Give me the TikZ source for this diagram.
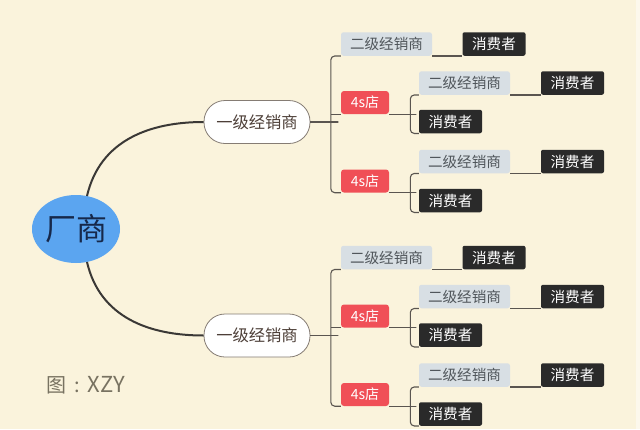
\documentclass[tikz,border=0pt]{standalone}
\usepackage{fontspec}
\newfontfamily\cjk{Noto Sans CJK SC}
\usetikzlibrary{shapes.geometric}
\definecolor{bg}{HTML}{FAF3DC}
\definecolor{bgedge}{HTML}{FCF8EC}
\definecolor{rootblue}{HTML}{5BA5F0}
\definecolor{roottext}{HTML}{16284A}
\definecolor{redbox}{HTML}{F04F57}
\definecolor{greybox}{HTML}{D8DFE4}
\definecolor{greytext}{HTML}{50565B}
\definecolor{blackbox}{HTML}{2A2A2A}
\definecolor{pilltext}{HTML}{4D3F38}
\definecolor{pilledge}{HTML}{857C74}
\definecolor{linecol}{HTML}{5A5550}
\definecolor{curvecol}{HTML}{3A3836}
\definecolor{credit}{HTML}{787261}
\begin{document}
\begin{tikzpicture}[x=1pt,y=-1pt,
  every node/.style={font=\cjk, inner sep=0pt},
  rootnode/.style={ellipse, fill=rootblue, minimum width=88pt, minimum height=68pt, text=roottext, font=\cjk\fontsize{31}{31}\selectfont},
  pill/.style={draw=pilledge, line width=0.8pt, fill=white, rounded corners=21pt, minimum width=106pt, minimum height=43pt, text=pilltext, font=\cjk\fontsize{16.3}{17}\selectfont},
  twobox/.style={fill=greybox, rounded corners=2.5pt, minimum width=91pt, minimum height=23.5pt, text=greytext, font=\cjk\fontsize{14.6}{15}\selectfont},
  shopbox/.style={fill=redbox, rounded corners=3pt, minimum width=48pt, minimum height=23pt, text=white, font=\cjk\fontsize{14}{14}\selectfont},
  consbox/.style={fill=blackbox, rounded corners=2pt, minimum width=63pt, minimum height=23.5pt, text=white, font=\cjk\fontsize{14.6}{15}\selectfont},
  conn/.style={draw=linecol, line width=1.1pt, rounded corners=4pt},
  curve/.style={draw=curvecol, line width=2pt}
]
\fill[bg] (0,0) rectangle (640,429);
\fill[bgedge] (636,0) rectangle (640,429);
\useasboundingbox (0,0) rectangle (640,429);

% root
\node[rootnode] (root) at (76,229) {厂商};

% two first-level groups
\foreach \g/\dy in {a/0, b/213.5}{
  \begin{scope}[yshift=-\dy pt]
  \node[pill] (L1\g) at (257,122) {一级经销商};
  \node[twobox] (T\g) at (386.5,44) {二级经销商};
  \node[consbox] (Tc\g) at (494,44) {消费者};
  \node[shopbox] (Sa\g) at (365,102.5) {4s店};
  \node[twobox] (Sat\g) at (464.5,83) {二级经销商};
  \node[consbox] (Satc\g) at (572.5,83) {消费者};
  \node[consbox] (Sac\g) at (450.5,121.5) {消费者};
  \node[shopbox] (Sb\g) at (365,181) {4s店};
  \node[twobox] (Sbt\g) at (464.5,161.5) {二级经销商};
  \node[consbox] (Sbtc\g) at (572.5,161.5) {消费者};
  \node[consbox] (Sbc\g) at (450.5,200.5) {消费者};
  \end{scope}
}

% connectors
\foreach \g in {a,b}{
  \path[conn] (L1\g.east) -- (L1\g.east -| T\g.south west) -- ++(-10,0);
  \path[conn] (T\g.south west) -- ++(-10,0) |- (Sb\g.south west);
  \path[conn] (Sa\g.south west) -- ++(-10,0);
  \path[conn] (T\g.south east) -- (Tc\g.south west);
  \path[conn] (Sa\g.south east) -- (Sa\g.south east -| Sat\g.south west) -- ++(-8.5,0);
  \path[conn] (Sat\g.south west) -- ++(-8.5,0) |- (Sac\g.south west);
  \path[conn] (Sat\g.south east) -- (Satc\g.south west);
  \path[conn] (Sb\g.south east) -- (Sb\g.south east -| Sbt\g.south west) -- ++(-8.5,0);
  \path[conn] (Sbt\g.south west) -- ++(-8.5,0) |- (Sbc\g.south west);
  \path[conn] (Sbt\g.south east) -- (Sbtc\g.south west);
}

% curves from root
\coordinate (rt) at (87,196);
\coordinate (rb) at (87,262);
\path[curve] (rt) .. controls (100,140) and (150,122) .. (L1a.west);
\path[curve] (rb) .. controls (100,318) and (150,335.5) .. (L1b.west);

% credit
\node[text=credit, anchor=west, font=\cjk\fontsize{20}{20}\selectfont] (credit) at (46,385) {图\hspace{8pt}:\hspace{8pt}{\fontsize{22}{22}\selectfont XZY}};
\end{tikzpicture}
\end{document}
